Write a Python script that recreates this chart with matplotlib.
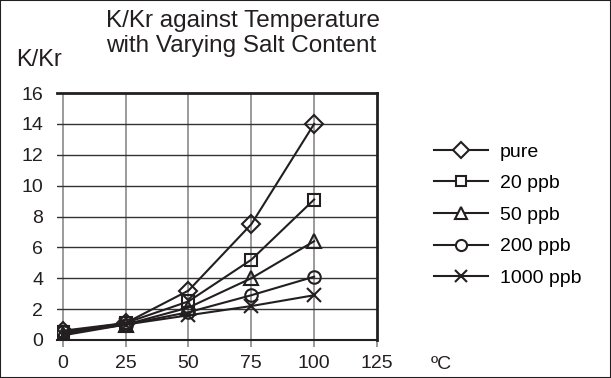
import matplotlib; matplotlib.use('Agg')
import matplotlib.pyplot as plt
from matplotlib.lines import Line2D
from matplotlib.patches import Rectangle

plt.rcParams.update({'font.family': ['Liberation Sans', 'DejaVu Sans'], 'font.size': 14})

temps = [0, 25, 50, 75, 100]
pure = [0.6, 1.1, 3.2, 7.5, 14.0]
ppb20 = [0.5, 1.1, 2.5, 5.2, 9.1]
ppb50 = [0.4, 1.0, 2.1, 4.0, 6.4]
ppb200 = [0.5, 1.0, 1.8, 2.9, 4.1]
ppb1000 = [0.3, 1.0, 1.6, 2.2, 2.9]
labels = ['pure', '20 ppb', '50 ppb', '200 ppb', '1000 ppb']
xticks = [0, 25, 50, 75, 100, 125]
yticks = [0, 2, 4, 6, 8, 10, 12, 14, 16]

ink = '#231f20'
series = [pure, ppb20, ppb50, ppb200, ppb1000]
markers = ['D', 's', '^', 'o', 'x']
msizes = [9, 8.5, 9.5, 9, 10]
leg_sizes = [8, 7.5, 8.5, 8, 9]

fig = plt.figure(figsize=(6.11, 3.78), dpi=100)
ax = fig.add_axes([57/611, 38/378, 320/611, 247/378])

handles = []
for ys, m, ms, lms, lab in zip(series, markers, msizes, leg_sizes, labels):
    ax.plot(temps, ys, color=ink, lw=1.5, marker=m, ms=ms, mfc='none', mec=ink, mew=1.5, zorder=3)
    handles.append(Line2D([], [], color=ink, lw=1.5, marker=m, ms=lms, mfc='white', mec=ink, mew=1.5, label=lab))

ax.set_xlim(-2.3, 125)
ax.set_ylim(0, 16)
ax.set_xticks(xticks)
ax.set_yticks(yticks)
for v in xticks[:-1]:
    ax.axvline(v, color='#8a8a8a', lw=1.2, zorder=1)
for v in yticks[1:-1]:
    ax.axhline(v, color='#333333', lw=1.0, zorder=1)
ax.tick_params(axis='x', length=5, width=1.2, color='#8a8a8a', pad=6, labelcolor=ink)
ax.tick_params(axis='y', length=0, pad=10, labelcolor=ink)
ax.spines['left'].set_visible(False)
ax.spines['top'].set_linewidth(2)
ax.spines['right'].set_linewidth(2)
ax.spines['bottom'].set_linewidth(1.5)
for s in ax.spines.values():
    s.set_color(ink)

fig.text(106/611, 1 - 10/378, 'K/Kr against Temperature\nwith Varying Salt Content',
         ha='left', va='top', fontsize=17.5, color=ink, linespacing=1.2)
fig.text(16/611, 1 - 66/378, 'K/Kr', fontsize=17, color=ink, va='baseline')
fig.text(431/611, 1 - 369/378, 'ºC', fontsize=14, color=ink, va='baseline')

fig.legend(handles=handles, loc='center left', bbox_to_anchor=(416/611, 1 - 215/378),
           frameon=False, fontsize=14, handlelength=2.8, handletextpad=0.6, labelspacing=0.72)

fig.add_artist(Rectangle((0, 0), 1, 1, transform=fig.transFigure, fill=False, ec=ink, lw=1.5))
fig.savefig('out.png', dpi=100)
